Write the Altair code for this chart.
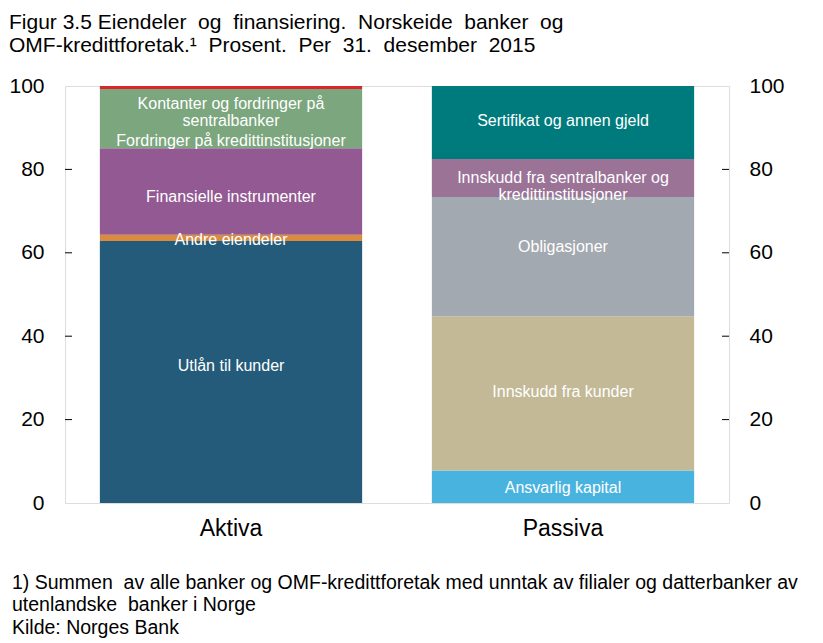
import altair as alt
import pandas as pd

# ---- data ----
sides = ["Aktiva"] * 5 + ["Passiva"] * 5
segments = [
    "Utlån til kunder",
    "Andre eiendeler",
    "Finansielle instrumenter",
    "Fordringer på kredittinstitusjoner",
    "Kontanter og fordringer på sentralbanker",
    "Ansvarlig kapital",
    "Innskudd fra kunder",
    "Obligasjoner",
    "Innskudd fra sentralbanker og kredittinstitusjoner",
    "Sertifikat og annen gjeld",
]
values = [62.8, 1.5, 20.8, 14.2, 0.7, 7.8, 37.0, 28.6, 9.1, 17.5]
stack_order = [1, 2, 3, 4, 5, 1, 2, 3, 4, 5]
colors = ["#245B7A", "#DA8C3C", "#935993", "#7BA67E", "#D9262B",
          "#49B3E0", "#C3B996", "#A3A9B0", "#9A7397", "#007B7D"]

label_texts = [
    "Utlån til kunder",
    "Andre eiendeler",
    "Finansielle instrumenter",
    "Fordringer på kredittinstitusjoner",
    "Kontanter og fordringer på\nsentralbanker",
    "Ansvarlig kapital",
    "Innskudd fra kunder",
    "Obligasjoner",
    "Innskudd fra sentralbanker og\nkredittinstitusjoner",
    "Sertifikat og annen gjeld",
]
label_y = [32.9, 63.1, 73.4, 86.8, 95.8, 3.6, 26.6, 61.4, 77.9, 91.6]

tick_values = [20, 40, 60, 80]
categories = ["Aktiva", "Passiva"]

NB = "\u00a0"
title_lines = [
    "Figur 3.5 Eiendeler" + NB + " og" + NB + " finansiering." + NB + " Norskeide" + NB + " banker" + NB + " og",
    "OMF-kredittforetak.¹" + NB + " Prosent." + NB + " Per" + NB + " 31." + NB + " desember" + NB + " 2015",
]
footnote_lines = [
    "1) Summen" + NB + " av alle banker og OMF-kredittforetak med unntak av filialer og datterbanker av",
    "utenlandske" + NB + " banker i Norge",
    "Kilde: Norges Bank",
]

FONT = "Liberation Sans"
W, H = 664, 417

df = pd.DataFrame({
    "side": sides, "segment": segments, "value": values,
    "order": stack_order, "label": label_texts, "label_y": label_y,
})
ticks_df = pd.DataFrame({"v": tick_values})

yscale = alt.Scale(domain=[0, 100], nice=False, zero=True)
xscale = alt.Scale(domain=categories, paddingInner=0.21, paddingOuter=0.105)

bars = alt.Chart(df).mark_bar(stroke=None).encode(
    x=alt.X("side:N", scale=xscale, sort=categories,
            axis=alt.Axis(title=None, labelAngle=0, labelFontSize=23, labelFont=FONT,
                          labelColor="black", ticks=False, domain=False, labelPadding=14)),
    y=alt.Y("value:Q", stack="zero", scale=yscale,
            axis=alt.Axis(title=None, values=[0, 20, 40, 60, 80, 100], labelFontSize=21,
                          labelFont=FONT, labelColor="black", ticks=False, domain=False,
                          grid=False, labelPadding=21)),
    color=alt.Color("segment:N", scale=alt.Scale(domain=segments, range=colors), legend=None),
    order=alt.Order("order:Q", sort="ascending"),
)

labels = alt.Chart(df).mark_text(
    color="white", fontSize=16, font=FONT, baseline="middle", align="center",
    lineBreak="\n", lineHeight=17,
).encode(
    x=alt.X("side:N", scale=xscale, sort=categories),
    y=alt.Y("label_y:Q", scale=yscale, axis=None),
    text="label:N",
)

ticks_left = alt.Chart(ticks_df).mark_rule(color="black", strokeWidth=1).encode(
    y=alt.Y("v:Q", scale=yscale, axis=None),
    x=alt.value(0), x2=alt.value(7),
)

ticks_right = alt.Chart(ticks_df).mark_rule(color="black", strokeWidth=1).encode(
    y=alt.Y("v:Q", scale=yscale,
            axis=alt.Axis(orient="right", title=None, values=[0, 20, 40, 60, 80, 100],
                          labelFontSize=21, labelFont=FONT, labelColor="black",
                          ticks=False, domain=False, grid=False, labelPadding=20)),
    x=alt.value(W - 7), x2=alt.value(W),
)

def text_line(txt, x, y, size):
    return alt.Chart(pd.DataFrame({"t": [txt]})).mark_text(
        align="left", baseline="middle", fontSize=size, font=FONT, color="black"
    ).encode(text="t:N", x=alt.value(x), y=alt.value(y))

title_layers = [text_line(t, -56, y, 21) for t, y in zip(title_lines, [-63, -40])]
foot_layers = [text_line(t, -53, y, 19.5) for t, y in zip(footnote_lines, [497, 519, 542])]

chart = alt.layer(bars, labels, ticks_left, ticks_right, *title_layers, *foot_layers).resolve_scale(
    y="independent"
).properties(
    width=W, height=H,
    autosize=alt.AutoSizeParams(type="none"),
    padding={"left": 57, "top": 78, "right": 86, "bottom": 140},
).configure_view(stroke="black", strokeWidth=1).configure(font=FONT)

chart.save("out.html", embed_options={"renderer": "svg", "actions": False})
